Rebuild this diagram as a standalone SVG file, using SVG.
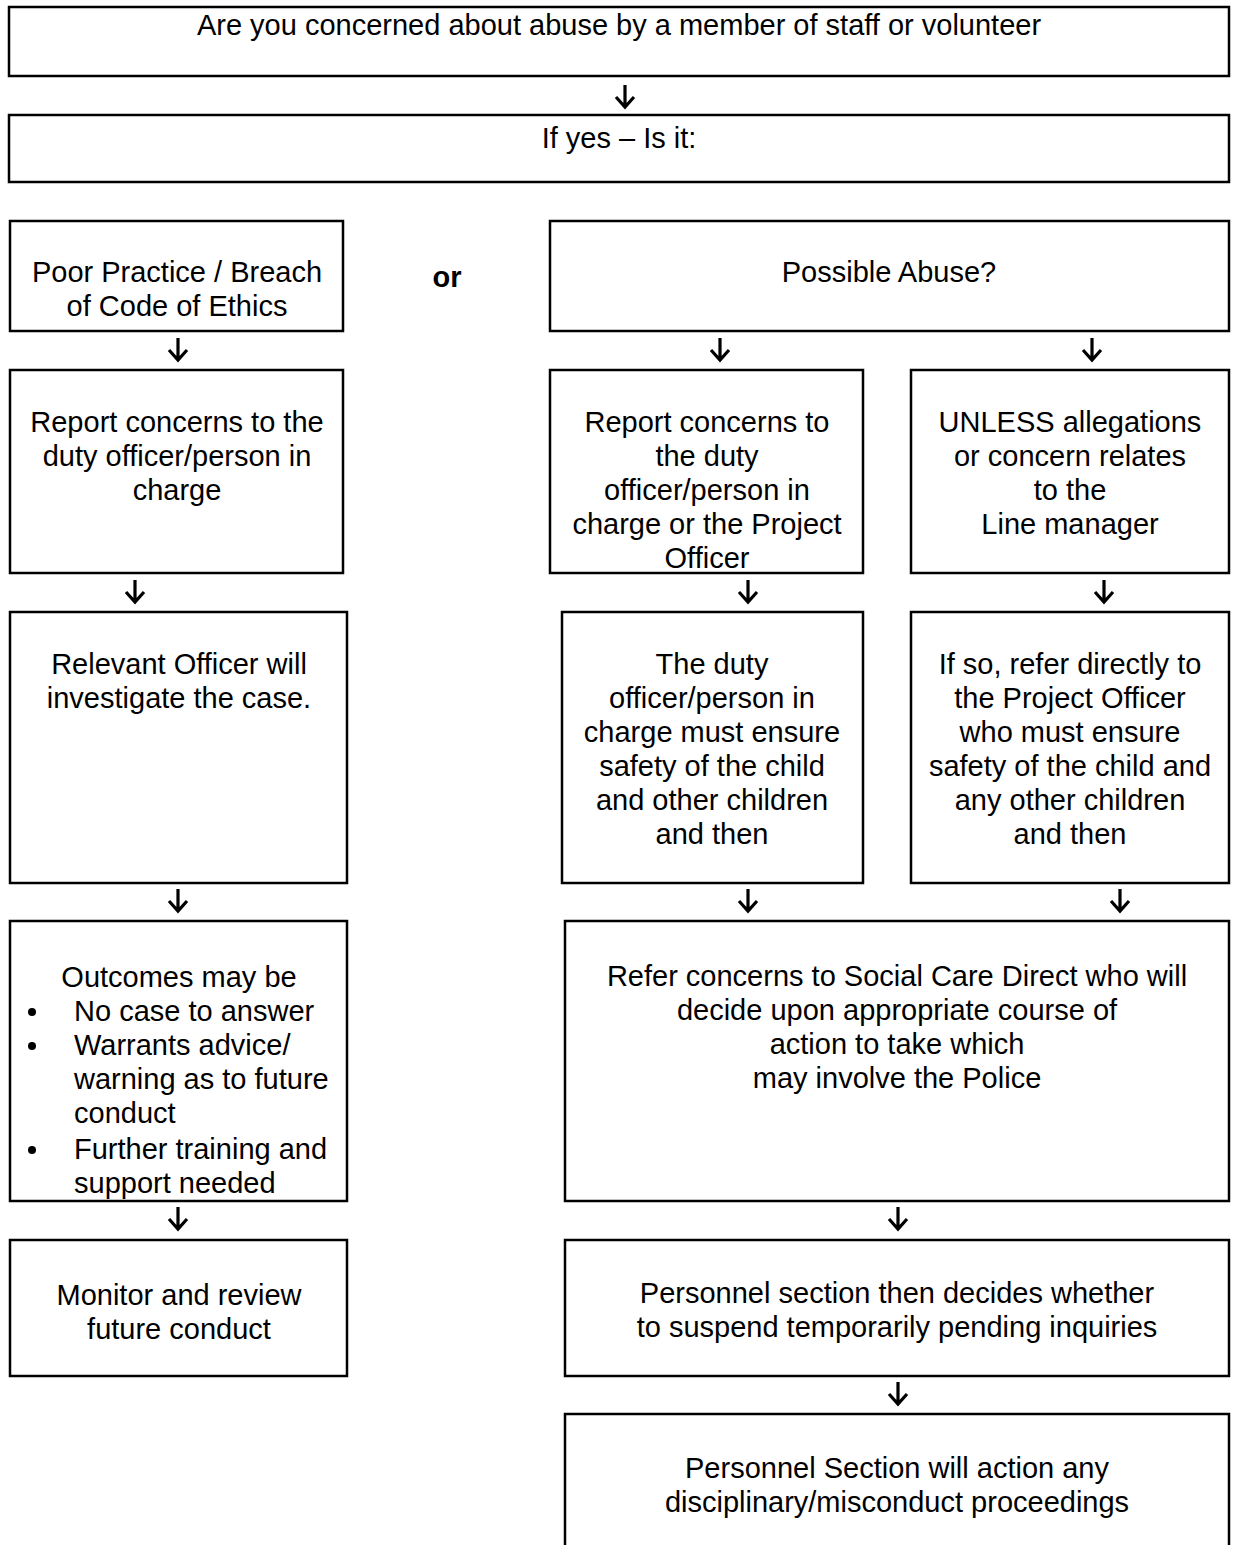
<svg xmlns="http://www.w3.org/2000/svg" width="1237" height="1545" viewBox="0 0 1237 1545">
<style>
  .box { fill: #ffffff; stroke: #000000; stroke-width: 2.5; }
  .t { font-family: "Liberation Sans", Arial, sans-serif; font-size: 29px; fill: #000000; text-anchor: middle; }
  .tl { font-family: "Liberation Sans", Arial, sans-serif; font-size: 29px; fill: #000000; }
  .b { font-weight: bold; }
  .arr { fill: none; stroke: #000000; stroke-width: 3.2; stroke-linecap: butt; stroke-linejoin: miter; }
</style>
<defs>
  <path id="down" d="M0,0 V22 M-9,12 L0,22 L9,12" class="arr"/>
</defs>
<rect width="1237" height="1545" fill="#ffffff"/>

<g id="connectors">
  <use href="#down" x="625" y="85"/>
  <use href="#down" x="178" y="338"/>
  <use href="#down" x="720" y="338"/>
  <use href="#down" x="1092" y="338"/>
  <use href="#down" x="135" y="580"/>
  <use href="#down" x="748" y="580"/>
  <use href="#down" x="1104" y="580"/>
  <use href="#down" x="178" y="889"/>
  <use href="#down" x="748" y="889"/>
  <use href="#down" x="1120" y="889"/>
  <use href="#down" x="178" y="1207"/>
  <use href="#down" x="898" y="1207"/>
  <use href="#down" x="898" y="1382"/>
</g>

<g id="n-top">
  <rect class="box" x="9" y="7" width="1220" height="69"/>
  <text class="t" x="619" y="35">Are you concerned about abuse by a member of staff or volunteer</text>
</g>

<g id="n-ifyes">
  <rect class="box" x="9" y="115" width="1220" height="67"/>
  <text class="t" x="619" y="148">If yes – Is it:</text>
</g>

<g id="n-poor">
  <rect class="box" x="10" y="221" width="333" height="110"/>
  <text class="t" x="177" y="282">Poor Practice / Breach</text>
  <text class="t" x="177" y="316">of Code of Ethics</text>
</g>

<g id="n-or">
  <text class="t b" x="447" y="287">or</text>
</g>

<g id="n-possible">
  <rect class="box" x="550" y="221" width="679" height="110"/>
  <text class="t" x="889" y="282">Possible Abuse?</text>
</g>

<g id="n-report-left">
  <rect class="box" x="10" y="370" width="333" height="203"/>
  <text class="t" x="177" y="432">Report concerns to the</text>
  <text class="t" x="177" y="466">duty officer/person in</text>
  <text class="t" x="177" y="500">charge</text>
</g>

<g id="n-report-mid">
  <rect class="box" x="550" y="370" width="313" height="203"/>
  <text class="t" x="707" y="432">Report concerns to</text>
  <text class="t" x="707" y="466">the duty</text>
  <text class="t" x="707" y="500">officer/person in</text>
  <text class="t" x="707" y="534">charge or the Project</text>
  <text class="t" x="707" y="568">Officer</text>
</g>

<g id="n-unless">
  <rect class="box" x="911" y="370" width="318" height="203"/>
  <text class="t" x="1070" y="432">UNLESS allegations</text>
  <text class="t" x="1070" y="466">or concern relates</text>
  <text class="t" x="1070" y="500">to the</text>
  <text class="t" x="1070" y="534">Line manager</text>
</g>

<g id="n-relevant">
  <rect class="box" x="10" y="612" width="337" height="271"/>
  <text class="t" x="179" y="674">Relevant Officer will</text>
  <text class="t" x="179" y="708">investigate the case.</text>
</g>

<g id="n-duty">
  <rect class="box" x="562" y="612" width="301" height="271"/>
  <text class="t" x="712" y="674">The duty</text>
  <text class="t" x="712" y="708">officer/person in</text>
  <text class="t" x="712" y="742">charge must ensure</text>
  <text class="t" x="712" y="776">safety of the child</text>
  <text class="t" x="712" y="810">and other children</text>
  <text class="t" x="712" y="844">and then</text>
</g>

<g id="n-ifso">
  <rect class="box" x="911" y="612" width="318" height="271"/>
  <text class="t" x="1070" y="674">If so, refer directly to</text>
  <text class="t" x="1070" y="708">the Project Officer</text>
  <text class="t" x="1070" y="742">who must ensure</text>
  <text class="t" x="1070" y="776">safety of the child and</text>
  <text class="t" x="1070" y="810">any other children</text>
  <text class="t" x="1070" y="844">and then</text>
</g>

<g id="n-outcomes">
  <rect class="box" x="10" y="921" width="337" height="280"/>
  <text class="t" x="179" y="987">Outcomes may be</text>
  <circle cx="32" cy="1012" r="4"/>
  <text class="tl" x="74" y="1021">No case to answer</text>
  <circle cx="32" cy="1046" r="4"/>
  <text class="tl" x="74" y="1055">Warrants advice/</text>
  <text class="tl" x="74" y="1089">warning as to future</text>
  <text class="tl" x="74" y="1123">conduct</text>
  <circle cx="32" cy="1150" r="4"/>
  <text class="tl" x="74" y="1159">Further training and</text>
  <text class="tl" x="74" y="1193">support needed</text>
</g>

<g id="n-refer">
  <rect class="box" x="565" y="921" width="664" height="280"/>
  <text class="t" x="897" y="986">Refer concerns to Social Care Direct who will</text>
  <text class="t" x="897" y="1020">decide upon appropriate course of</text>
  <text class="t" x="897" y="1054">action to take which</text>
  <text class="t" x="897" y="1088">may involve the Police</text>
</g>

<g id="n-monitor">
  <rect class="box" x="10" y="1240" width="337" height="136"/>
  <text class="t" x="179" y="1305">Monitor and review</text>
  <text class="t" x="179" y="1339">future conduct</text>
</g>

<g id="n-personnel-decides">
  <rect class="box" x="565" y="1240" width="664" height="136"/>
  <text class="t" x="897" y="1303">Personnel section then decides whether</text>
  <text class="t" x="897" y="1337">to suspend temporarily pending inquiries</text>
</g>

<g id="n-personnel-action">
  <rect class="box" x="565" y="1414" width="664" height="150"/>
  <text class="t" x="897" y="1478">Personnel Section will action any</text>
  <text class="t" x="897" y="1512">disciplinary/misconduct proceedings</text>
</g>
</svg>
